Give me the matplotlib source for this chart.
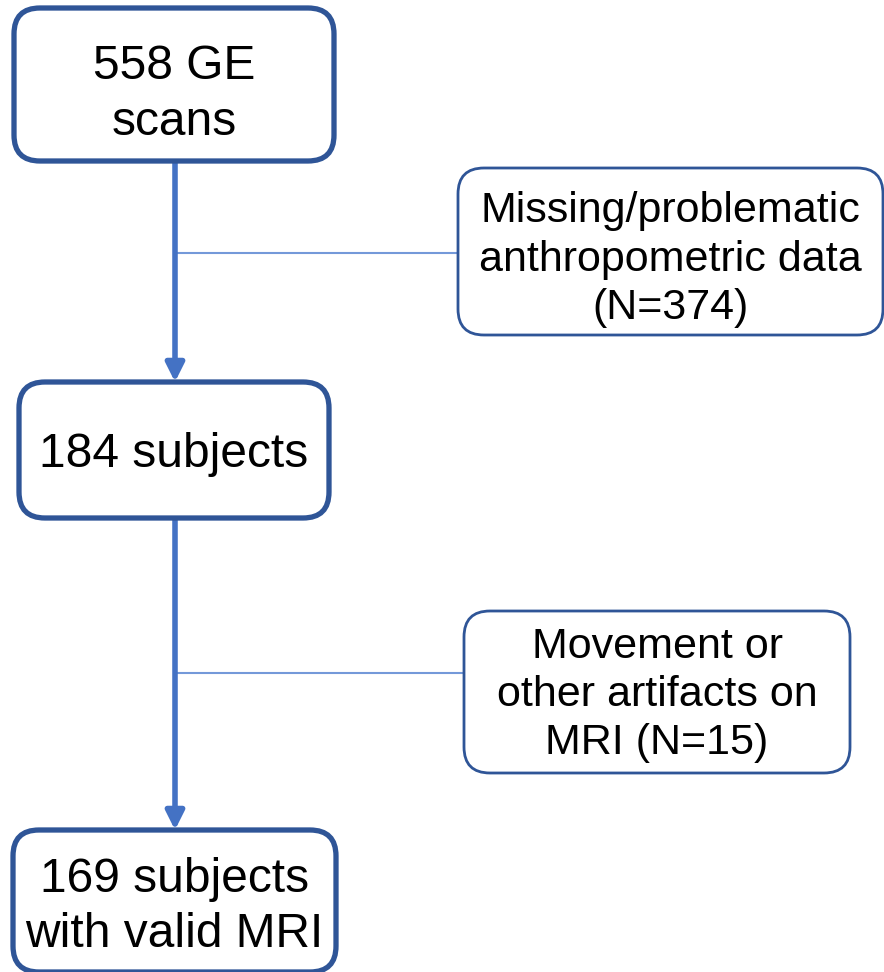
import matplotlib.pyplot as plt
from matplotlib.patches import FancyBboxPatch

plt.rcParams['font.family'] = ['Liberation Sans', 'DejaVu Sans']

# Textos del diagrama de flujo
pasosPrincipales = ['558 GE\nscans', '184 subjects', '169 subjects\nwith valid MRI']
exclusiones = ['Missing/problematic\nanthropometric data\n(N=374)',
               'Movement or\nother artifacts on\nMRI (N=15)']

# Layout en pixeles (x0, y0, x1, y1) y desplazamiento vertical del texto
cajasPrincipales = [(14, 8, 334, 161), (19, 382, 329, 518), (13, 830, 336, 972)]
dyPrincipales = [10, 4, 6]
cajasExclusion = [(458, 168, 883, 335), (464, 611, 850, 773)]
dyExclusion = [8, 3]
yLineas = [253, 673]
xFlecha = 175

colorBorde = '#2F5597'
colorFlecha = '#4472C4'
colorLinea = '#7499D9'

fig = plt.figure(figsize=(8.84, 9.72), dpi=100)
ax = fig.add_axes([0, 0, 1, 1])
ax.set_xlim(0, 884)
ax.set_ylim(972, 0)
ax.axis('off')

def caja(ax, x0, y0, x1, y1, texto, dy, lw, size, esp):
    r = 26
    p = FancyBboxPatch((x0, y0), x1 - x0, y1 - y0,
                       boxstyle='round,pad=0,rounding_size=%d' % r,
                       fc='white', ec=colorBorde, lw=lw, zorder=3)
    ax.add_patch(p)
    ax.text((x0 + x1) / 2, (y0 + y1) / 2 + dy, texto, ha='center', va='center',
            fontsize=size, linespacing=esp, zorder=4)

# Flechas principales
for i in range(len(cajasPrincipales) - 1):
    yIni = cajasPrincipales[i][3]
    yFin = cajasPrincipales[i + 1][1]
    ax.annotate('', xy=(xFlecha, yFin), xytext=(xFlecha, yIni),
                arrowprops=dict(arrowstyle='-|>,head_length=1.1,head_width=0.55',
                                color=colorFlecha, lw=4, shrinkA=0, shrinkB=0),
                zorder=2)

# Lineas hacia las exclusiones
for yL, cj in zip(yLineas, cajasExclusion):
    ax.plot([xFlecha, cj[0]], [yL, yL], color=colorLinea, lw=1.5, zorder=1)

for cj, t, dy in zip(cajasPrincipales, pasosPrincipales, dyPrincipales):
    caja(ax, *cj, t, dy, 3.8, 34.5, 1.3)

for cj, t, dy in zip(cajasExclusion, exclusiones, dyExclusion):
    caja(ax, *cj, t, dy, 2, 31, 1.26)

plt.savefig('out.png', dpi=100)
